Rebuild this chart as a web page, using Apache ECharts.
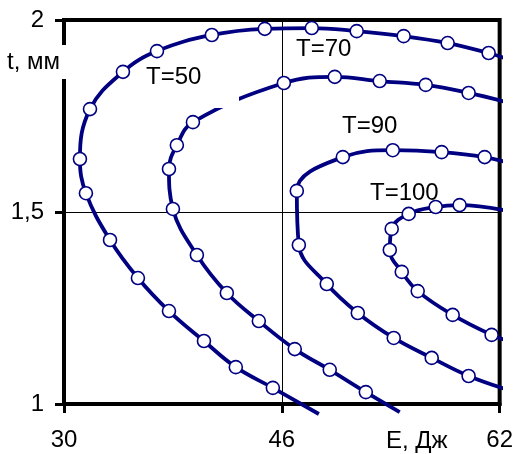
<!DOCTYPE html>
<html><head><meta charset="utf-8">
<script src="https://cdn.jsdelivr.net/npm/echarts@6/dist/echarts.min.js"></script>
<style>html,body{margin:0;padding:0;background:#fff}#c{width:516px;height:454px}</style>
</head><body><div id="c"></div>
<script>
// ---- data (E, Дж ; t, мм) ----
const xTicks = [30, 46, 62];
const yTicks = [1, 1.5, 2];
const curveNames = ['T=50', 'T=70', 'T=90', 'T=100'];
const xName = 'E, Дж';
const yName = 't, мм';

// marker points of each curve, ordered along the curve
const t50Points = [[45.34,1.042],[42.62,1.096],[40.28,1.164],[37.71,1.242],[35.43,1.328],[33.38,1.427],[31.61,1.549],[31.17,1.638],[31.91,1.768],[34.33,1.865],[36.83,1.919],[40.86,1.961],[44.75,1.977],[48.20,1.979],[51.50,1.971],[54.95,1.958],[58.18,1.940],[61.19,1.914]];
const t70Points = [[52.17,1.031],[49.52,1.089],[46.95,1.143],[44.31,1.216],[41.96,1.289],[39.76,1.388],[38.00,1.508],[37.71,1.612],[38.29,1.674],[39.47,1.734],[46.15,1.836],[49.89,1.852],[53.19,1.841],[56.57,1.831],[59.72,1.810]];
const t90Points = [[59.72,1.073],[57.01,1.120],[54.22,1.172],[51.58,1.237],[49.30,1.3125],[47.25,1.414],[47.10,1.555],[50.48,1.643],[54.15,1.661],[57.74,1.656],[60.90,1.643]];
const t100Points = [[61.41,1.180],[58.55,1.232],[55.98,1.294],[54.81,1.344],[53.93,1.401],[54.07,1.456],[55.32,1.495],[57.30,1.513],[59.06,1.518]];
// line continuation beyond the first / last marker
const t50Tails = [[48.72,0.974],[63.03,1.893]];
const t70Tails = [[54.66,0.979],[63.03,1.781]];
const t90Tails = [[62.88,1.034],[62.95,1.625]];
const t100Tails = [[62.95,1.161],[62.95,1.500]];

const curves = [[t50Points,t50Tails],[t70Points,t70Tails],[t90Points,t90Tails],[t100Points,t100Tails]];

const FONT = '"Liberation Sans", Arial, sans-serif';
const NAVY = '#000080';

const chart = echarts.init(document.getElementById('c'), null, {renderer:'canvas'});

function buildData(points, tails){
  return [{value: tails[0], symbol:'none'}]
    .concat(points.map(p => ({value: p})))
    .concat([{value: tails[1], symbol:'none'}]);
}

const series = [{
  type:'line', data:[], z:1, silent:true,
  markLine:{silent:true, z:1, symbol:'none', label:{show:false}, animation:false,
    lineStyle:{color:'#000', width:1, type:'solid'},
    emphasis:{disabled:true},
    data:[{xAxis: xTicks[1]}]}
}];
curves.forEach((c, i) => {
  series.push({
    name: curveNames[i], type:'line', data: buildData(c[0], c[1]),
    smooth:0.4, clip:false, z:2, silent:true,
    symbol:'circle', symbolSize:13, showAllSymbol:true,
    lineStyle:{color:NAVY, width:3.8},
    itemStyle:{color:'#fff', borderColor:NAVY, borderWidth:1.6},
    emphasis:{disabled:true}
  });
});

const labelPos = [[146,77],[296,49],[342,126],[370,193.5]];

chart.setOption({
  animation:false,
  backgroundColor:'#fff',
  grid:{left:64, right:16, top:20, bottom:50, show:true, borderColor:'#000', borderWidth:4, backgroundColor:'transparent'},
  xAxis:{type:'value', min:xTicks[0], max:xTicks[2],
    axisLine:{show:true, lineStyle:{color:'#000', width:4}},
    axisTick:{show:true, customValues:xTicks, length:9, lineStyle:{color:'#000', width:3}},
    axisLabel:{customValues:xTicks, color:'#000', fontSize:24, fontFamily:FONT, margin:24},
    splitLine:{show:false}},
  yAxis:{type:'value', min:yTicks[0], max:yTicks[2], interval:0.5,
    axisLine:{show:true, lineStyle:{color:'#000', width:4}},
    axisTick:{show:true, length:9, lineStyle:{color:'#000', width:3}},
    axisLabel:{color:'#000', fontSize:24, fontFamily:FONT, margin:20,
      formatter: v => String(v).replace('.', ',')},
    splitLine:{show:true, lineStyle:{color:'#000', width:1}}},
  graphic: curveNames.map((n, i) => ({
      type:'text', z:1, silent:true,
      style:{text:n, x:labelPos[i][0], y:labelPos[i][1], font:'24px ' + FONT, fill:'#000', textAlign:'left', textVerticalAlign:'middle'}
    })).concat([
      {type:'rect', z:10, silent:true, shape:{x:203, y:86, width:36, height:22}, style:{fill:'#fff'}},
      {type:'text', z:10, silent:true, style:{text:yName, x:5, y:62, font:'24px ' + FONT, fill:'#000', textAlign:'left', textVerticalAlign:'middle', backgroundColor:'#fff', padding:[5,10,5,2]}},
      {type:'text', z:10, silent:true, style:{text:xName, x:386, y:441, font:'24px ' + FONT, fill:'#000', textAlign:'left', textVerticalAlign:'middle'}}
    ]),
  series: series
});
</script></body></html>
